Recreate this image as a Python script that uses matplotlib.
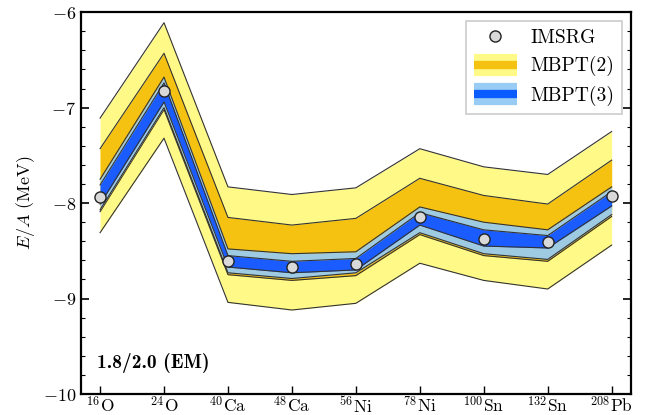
import numpy as np
import matplotlib
matplotlib.use('Agg')
import matplotlib.pyplot as plt
from matplotlib.lines import Line2D
from matplotlib.legend_handler import HandlerTuple

plt.rcParams['font.family'] = 'serif'
plt.rcParams['font.serif'] = ['cmr10']
plt.rcParams['mathtext.fontset'] = 'cm'
plt.rcParams['axes.unicode_minus'] = False

nuclei = [r'$^{16}\mathrm{O}$', r'$^{24}\mathrm{O}$', r'$^{40}\mathrm{Ca}$',
          r'$^{48}\mathrm{Ca}$', r'$^{56}\mathrm{Ni}$', r'$^{78}\mathrm{Ni}$',
          r'$^{100}\mathrm{Sn}$', r'$^{132}\mathrm{Sn}$', r'$^{208}\mathrm{Pb}$']

imsrg = [-7.94, -6.83, -8.61, -8.67, -8.64, -8.15, -8.38, -8.41, -7.93]

# MBPT(2): outer (yellow) and inner (orange) bands
mbpt2_out_hi = [-7.11, -6.11, -7.83, -7.91, -7.84, -7.43, -7.62, -7.70, -7.25]
mbpt2_out_lo = [-8.31, -7.32, -9.04, -9.12, -9.05, -8.63, -8.81, -8.90, -8.44]
mbpt2_in_hi  = [-7.43, -6.43, -8.15, -8.23, -8.16, -7.74, -7.92, -8.01, -7.55]
mbpt2_in_lo  = [-8.09, -7.02, -8.75, -8.81, -8.76, -8.33, -8.55, -8.61, -8.14]

# MBPT(3): outer (light blue) and inner (blue) bands
mbpt3_out_hi = [-7.75, -6.68, -8.48, -8.53, -8.51, -8.04, -8.20, -8.28, -7.83]
mbpt3_out_lo = [-8.07, -7.00, -8.73, -8.79, -8.73, -8.31, -8.53, -8.59, -8.12]
mbpt3_in_hi  = [-7.81, -6.74, -8.55, -8.61, -8.58, -8.10, -8.28, -8.34, -7.88]
mbpt3_in_lo  = [-8.01, -6.94, -8.67, -8.73, -8.70, -8.23, -8.45, -8.47, -8.03]

yellow = '#fffa88'
orange = '#f5c211'
lblue = '#9ecbe2'
dblue = '#1a5cff'
edge = '#333333'

x = np.arange(len(nuclei))

fig = plt.figure(figsize=(6.47, 4.15), dpi=100)
ax = fig.add_axes([0.125, 0.0506, 0.85, 0.92])

bands = [(mbpt2_out_lo, mbpt2_out_hi, yellow),
         (mbpt2_in_lo, mbpt2_in_hi, orange),
         (mbpt3_out_lo, mbpt3_out_hi, lblue),
         (mbpt3_in_lo, mbpt3_in_hi, dblue)]
for i, (lo, hi, c) in enumerate(bands):
    ax.fill_between(x, lo, hi, color=c, lw=0, zorder=2 + i)
    ax.plot(x, lo, color=edge, lw=0.8, zorder=2.5 + i)
    ax.plot(x, hi, color=edge, lw=0.8, zorder=2.5 + i)

ax.plot(x, imsrg, 'o', ms=8, mfc='#d9d9d9', mec='#222222', mew=1.0, zorder=10)

ax.set_xlim(-0.3, 8.3)
ax.set_ylim(-10, -6)
ax.set_xticks(x)
ax.set_xticklabels(nuclei, fontsize=12.5)
ax.set_yticks([-10, -9, -8, -7, -6])
ax.set_yticklabels([r'$-10$', r'$-9$', r'$-8$', r'$-7$', r'$-6$'], fontsize=13)
ax.set_yticks(np.arange(-10, -5.9, 0.2), minor=True)
ax.tick_params(axis='y', which='both', direction='in', left=True, right=True)
ax.tick_params(axis='y', which='major', length=6, width=1.2)
ax.tick_params(axis='y', which='minor', length=3, width=0.8)
ax.tick_params(axis='x', direction='in', length=6, width=1.0, pad=1)
for s in ax.spines.values():
    s.set_linewidth(1.6)

ax.set_ylabel(r'$E/A$ (MeV)', fontsize=13)

ax.text(0.03, 0.055, '1.8/2.0 (EM)', transform=ax.transAxes,
        family='cmb10', fontsize=14, ha='left', va='bottom')

h_ims = Line2D([], [], ls='none', marker='o', ms=8, mfc='#d9d9d9', mec='#222222', mew=1.0)
h_m2 = (Line2D([], [], color=yellow, lw=16, solid_capstyle='butt'),
        Line2D([], [], color=orange, lw=6, solid_capstyle='butt'))
h_m3 = (Line2D([], [], color='#99ccf5', lw=16, solid_capstyle='butt'),
        Line2D([], [], color='#0a5cff', lw=6, solid_capstyle='butt'))
leg = ax.legend([h_ims, h_m2, h_m3], ['IMSRG', 'MBPT(2)', 'MBPT(3)'],
                handler_map={tuple: HandlerTuple(ndivide=1, pad=0)},
                loc='upper right', fontsize=14, handlelength=2.2,
                labelspacing=0.5, fancybox=False, framealpha=1,
                edgecolor='#cccccc', borderpad=0.4, handletextpad=0.7,
                borderaxespad=0.45)
leg.get_frame().set_linewidth(1.2)

fig.savefig('out.png', dpi=100)
